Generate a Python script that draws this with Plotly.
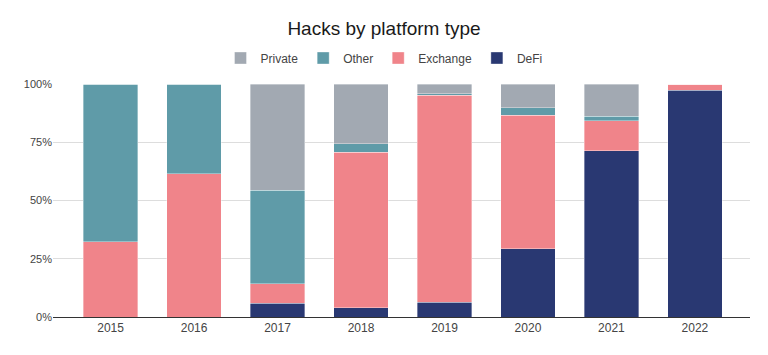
import plotly.graph_objects as go

years = ["2015", "2016", "2017", "2018", "2019", "2020", "2021", "2022"]
defi = [0, 0, 5.9, 3.9, 6.3, 29.4, 71.4, 97.3]
exchange = [32.4, 61.5, 8.3, 66.8, 88.9, 57.2, 12.8, 2.7]
other = [67.6, 38.5, 40.3, 3.6, 0.6, 3.3, 2.0, 0]
private = [0, 0, 45.5, 25.7, 4.2, 10.1, 13.8, 0]

series = [
    ("DeFi", defi, "#293872"),
    ("Exchange", exchange, "#F0848A"),
    ("Other", other, "#5F9BA8"),
    ("Private", private, "#A2A9B2"),
]

fig = go.Figure()
for name, vals, color in series:
    fig.add_trace(go.Bar(
        name=name, x=years, y=vals,
        marker=dict(color=color, line=dict(color="rgba(255,255,255,0.6)", width=0.6)),
    ))

plot_h = 317 - 84

fig.update_layout(
    barmode="stack",
    bargap=0.35,
    width=768, height=355,
    paper_bgcolor="white", plot_bgcolor="white",
    margin=dict(l=53, r=18, t=84, b=38, autoexpand=False),
    font=dict(family="Liberation Sans, Arial, sans-serif", color="#444444", size=12),
    title=dict(text="Hacks by platform type", x=0.5, xanchor="center",
               xref="container", y=1 - 28 / 355, yref="container", yanchor="middle",
               font=dict(size=19, color="#1a1a1a")),
    legend=dict(orientation="h", traceorder="reversed", x=0.5, xanchor="center",
                xref="container", y=1 + (84 - 58) / plot_h, yref="paper", yanchor="middle",
                itemwidth=30, font=dict(size=12, color="#444444")),
    xaxis=dict(range=[-0.69, 7.66], showgrid=False, showline=True,
               linecolor="#333333", linewidth=1, ticks="", tickfont=dict(size=12)),
    yaxis=dict(range=[0, 100], tickvals=[0, 25, 50, 75, 100],
               ticktext=["0%", "25%", "50%", "75%", "100%"],
               gridcolor="#dddddd", zeroline=False, ticks="", tickfont=dict(size=11)),
)

fig.write_html("out.html", config={"displayModeBar": False},
               post_script="document.body.style.margin='0';")
